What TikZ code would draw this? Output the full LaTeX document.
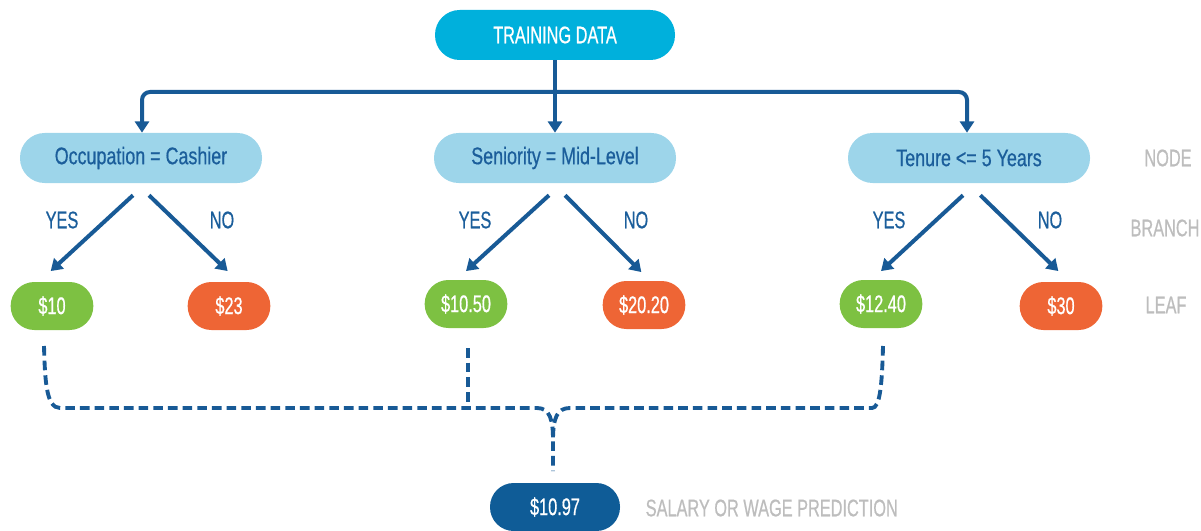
\documentclass[tikz,border=0pt]{standalone}
\usepackage{fontspec}
\setmainfont{Liberation Sans}[FakeStretch=0.68, FakeBold=0.6]
\newfontfamily\qfont{Liberation Sans}[FakeStretch=0.745, FakeBold=0.6]
\usetikzlibrary{arrows.meta}
\definecolor{cyanbox}{HTML}{00B0DC}
\definecolor{lightbox}{HTML}{9DD5EA}
\definecolor{darktext}{HTML}{1B5E9B}
\definecolor{arrowblue}{HTML}{185A96}
\definecolor{leafgreen}{HTML}{7DC142}
\definecolor{leaforange}{HTML}{EE6535}
\definecolor{resultblue}{HTML}{0F5C97}
\definecolor{legendgray}{HTML}{BDBDBD}
\tikzset{
  pill/.style={rounded corners=18.5pt, minimum height=37.5pt, inner sep=0pt, font=\fontsize{18}{20}\selectfont},
  toppill/.style={pill, fill=cyanbox, text=white, minimum width=180pt},
  qpill/.style={pill, fill=lightbox, text=darktext, minimum width=181.5pt, font=\qfont\fontsize{18}{20}\selectfont},
  leafpill/.style={pill, rounded corners=17.8pt, minimum height=36pt, minimum width=62pt, text=white},
  yesleaf/.style={leafpill, fill=leafgreen},
  noleaf/.style={leafpill, fill=leaforange},
  respill/.style={pill, rounded corners=17.8pt, fill=resultblue, text=white, minimum width=97.5pt, minimum height=36pt},
  branchlbl/.style={text=darktext, font=\fontsize{18}{20}\selectfont},
  legend/.style={text=legendgray, font=\fontsize{18}{20}\selectfont},
  conn/.style={draw=arrowblue, line width=3pt, -{Triangle[width=10.5pt,length=8.5pt]}},
  brarrow/.style={draw=arrowblue, line width=3pt, -{Triangle[width=10.5pt,length=8.5pt]}},
  merge/.style={draw=arrowblue, line width=2.9pt, dash pattern=on 7.2pt off 3.8pt},
}
\begin{document}
\begin{tikzpicture}[x=0.75pt, y=-0.75pt]
\useasboundingbox (0,0) rectangle (1201,531);
% nodes
\node[toppill] (train) at (555,35) {TRAINING DATA};
\node[qpill] (q1) at (141,158) {Occupation = Cashier};
\node[qpill] (q2) at (555,158) {Seniority = Mid-Level};
\node[qpill] (q3) at (969,158) {Tenure <= 5 Years};
\node[yesleaf] (l1) at (52,306) {\$10};
\node[noleaf] (l2) at (229,306) {\$23};
\node[yesleaf] (l3) at (466,304) {\$10.50};
\node[noleaf] (l4) at (644,305) {\$20.20};
\node[yesleaf] (l5) at (881,304) {\$12.40};
\node[noleaf] (l6) at (1061,306) {\$30};
\node[respill] (res) at (555,507) {\$10.97};
% legend
\node[legend] (lnode) at (1168,158) {NODE};
\node[legend] (lbranch) at (1165,228) {BRANCH};
\node[legend] (lleaf) at (1166,305) {LEAF};
\node[legend, anchor=west] (lpred) at (641,508) {SALARY OR WAGE PREDICTION};
% branch labels
\node[branchlbl] (y1) at (62,220) {YES};
\node[branchlbl] (n1) at (222,220) {NO};
\node[branchlbl] (y2) at (475,220) {YES};
\node[branchlbl] (n2) at (636,220) {NO};
\node[branchlbl] (y3) at (889,220) {YES};
\node[branchlbl] (n3) at (1050,220) {NO};
% top connectors
\coordinate (hl) at (142,92);
\coordinate (hr) at (967,92);
\draw[conn] (train.south) -- (q2.north);
\draw[conn, rounded corners=6pt] (train.south |- hl) -- (hl) -- (q1.north -| hl);
\draw[conn, rounded corners=6pt] (train.south |- hr) -- (hr) -- (q3.north -| hr);
% branches
\draw[brarrow] ([xshift=-6pt,yshift=-9pt]q1.south) -- ([xshift=-1pt,yshift=8pt]l1.north);
\draw[brarrow] ([xshift=6pt,yshift=-9pt]q1.south) -- ([xshift=-1pt,yshift=8pt]l2.north);
\draw[brarrow] ([xshift=-4.5pt,yshift=-9pt]q2.south) -- ([xshift=0pt,yshift=6.5pt]l3.north);
\draw[brarrow] ([xshift=7.5pt,yshift=-9pt]q2.south) -- ([xshift=-2pt,yshift=6.5pt]l4.north);
\draw[brarrow] ([xshift=-4.5pt,yshift=-9pt]q3.south) -- ([xshift=0pt,yshift=6.5pt]l5.north);
\draw[brarrow] ([xshift=8.5pt,yshift=-9pt]q3.south) -- ([xshift=-2pt,yshift=8pt]l6.north);
% merge lines
\coordinate (m1) at (44,346);
\coordinate (m3) at (468,348);
\coordinate (m5) at (883,346);
\coordinate (mj) at (468,408);
\coordinate (mend) at (553,471);
\draw[merge] (m1) .. controls (45,380) and (46,408) .. (60,408) -- (537,408)
  .. controls (550,408) and (553,420) .. (553,440) -- (mend);
\draw[merge] (m3) -- (mj);
\draw[merge] (m5) .. controls (882,385) and (880,408) .. (872,408) -- (570,408)
  .. controls (557,408) and (553,418) .. (553,440);
\end{tikzpicture}
\end{document}
